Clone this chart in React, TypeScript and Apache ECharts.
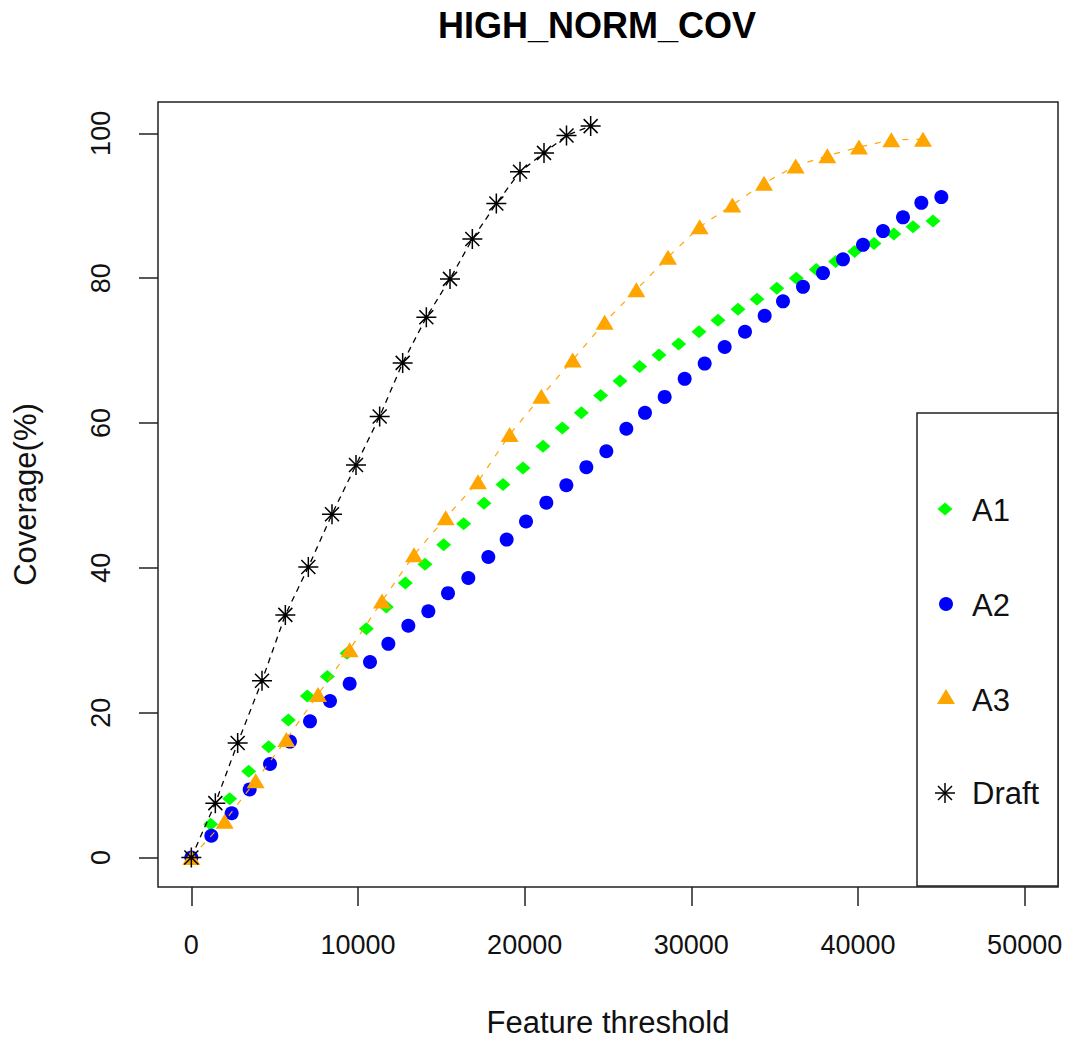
import React, { useEffect, useRef } from "react";
import * as echarts from "echarts";

// ---- data ----
const a1X = [0, 1160, 2300, 3440, 4640, 5820, 6960, 8160, 9340, 10500, 11700, 12840, 14020, 15140, 16340, 17560, 18700, 19900, 21100, 22260, 23400, 24560, 25720, 26900, 28060, 29240, 30460, 31600, 32800, 33940, 35130, 36300, 37500, 38660, 39800, 40960, 42150, 43300, 44500];
const a1Y = [0, 4.6, 8.1, 11.9, 15.3, 19.0, 22.3, 25.0, 28.2, 31.6, 34.6, 37.9, 40.5, 43.2, 46.1, 48.9, 51.5, 53.8, 56.8, 59.3, 61.4, 63.8, 65.8, 67.8, 69.4, 70.9, 72.6, 74.2, 75.7, 77.1, 78.6, 80.0, 81.2, 82.3, 83.7, 84.8, 86.1, 87.1, 87.9];

const a2X = [0, 1200, 2420, 3500, 4720, 5920, 7120, 8320, 9500, 10720, 11820, 13020, 14220, 15400, 16620, 17820, 18920, 20080, 21300, 22500, 23700, 24900, 26100, 27220, 28400, 29600, 30800, 32000, 33220, 34400, 35500, 36700, 37900, 39100, 40300, 41500, 42700, 43800, 45000];
const a2Y = [0, 3.0, 6.1, 9.4, 12.9, 16.0, 18.8, 21.6, 24.0, 27.0, 29.5, 32.0, 34.0, 36.5, 38.6, 41.5, 43.9, 46.4, 49.0, 51.4, 53.9, 56.1, 59.2, 61.4, 63.6, 66.1, 68.2, 70.5, 72.6, 74.8, 76.8, 78.8, 80.7, 82.6, 84.6, 86.5, 88.4, 90.4, 91.2];

const a3X = [0, 2000, 3860, 5700, 7600, 9500, 11440, 13360, 15260, 17200, 19100, 21000, 22880, 24800, 26700, 28600, 30500, 32460, 34360, 36260, 38160, 40060, 42000, 43900];
const a3Y = [0, 5.0, 10.6, 16.3, 22.5, 28.7, 35.4, 41.8, 46.9, 51.9, 58.4, 63.7, 68.7, 73.9, 78.4, 82.9, 87.1, 90.1, 93.1, 95.5, 96.9, 98.1, 99.1, 99.2];

const draftX = [0, 1440, 2780, 4240, 5640, 7020, 8440, 9880, 11300, 12680, 14100, 15520, 16860, 18300, 19720, 21160, 22510, 23960];
const draftY = [0, 7.5, 15.8, 24.4, 33.5, 40.1, 47.4, 54.2, 60.9, 68.3, 74.6, 79.9, 85.4, 90.3, 94.7, 97.3, 99.7, 101.0];

const xTicks = [0, 10000, 20000, 30000, 40000, 50000];
const yTicks = [0, 20, 40, 60, 80, 100];
const legendNames = ["A1", "A2", "A3", "Draft"];

const FONT = "'Liberation Sans', Arial, Helvetica, sans-serif";
const ASTERISK = "path://M0,10L20,10M10,0L10,20M3,3L17,17M17,3L3,17";

const zip = (xs: number[], ys: number[]) => xs.map((x, i) => [x, ys[i]]);

export default function App() {
  const ref = useRef<HTMLDivElement>(null);
  useEffect(() => {
    const chart = echarts.init(ref.current!, null, { renderer: "svg" });

    const legendYs = [510, 605, 700, 793];
    const lx = 945;
    const legendGraphics: any[] = [
      {
        type: "rect",
        z: 100,
        shape: { x: 917, y: 413, width: 141, height: 473 },
        style: { fill: "#fff", stroke: "#222", lineWidth: 1.5 },
      },
      {
        type: "polygon",
        z: 101,
        shape: { points: [[lx - 7.5, legendYs[0] - 1], [lx, legendYs[0] - 7.5], [lx + 7.5, legendYs[0] - 1], [lx, legendYs[0] + 5.5]] },
        style: { fill: "#00ff00" },
      },
      {
        type: "circle",
        z: 101,
        shape: { cx: lx + 1, cy: legendYs[1] - 1, r: 7 },
        style: { fill: "#0000ff" },
      },
      {
        type: "polygon",
        z: 101,
        shape: { points: [[lx + 1, legendYs[2] - 11], [lx + 10, legendYs[2] + 4], [lx - 8, legendYs[2] + 4]] },
        style: { fill: "#ffa500" },
      },
      {
        type: "group",
        z: 101,
        children: [
          { type: "line", z: 101, shape: { x1: lx - 10, y1: legendYs[3], x2: lx + 10, y2: legendYs[3] }, style: { stroke: "#000", lineWidth: 1.5 } },
          { type: "line", z: 101, shape: { x1: lx, y1: legendYs[3] - 10, x2: lx, y2: legendYs[3] + 10 }, style: { stroke: "#000", lineWidth: 1.5 } },
          { type: "line", z: 101, shape: { x1: lx - 7, y1: legendYs[3] - 7, x2: lx + 7, y2: legendYs[3] + 7 }, style: { stroke: "#000", lineWidth: 1.5 } },
          { type: "line", z: 101, shape: { x1: lx + 7, y1: legendYs[3] - 7, x2: lx - 7, y2: legendYs[3] + 7 }, style: { stroke: "#000", lineWidth: 1.5 } },
        ],
      },
      ...legendNames.map((n, i) => ({
        type: "text",
        z: 101,
        x: 972,
        y: legendYs[i],
        style: { text: n, fontSize: 31, fontFamily: FONT, fill: "#111", verticalAlign: "middle", align: "left" },
      })),
    ];

    const option: any = {
      animation: false,
      backgroundColor: "#fff",
      title: {
        text: "HIGH_NORM_COV",
        left: 433,
        top: 2,
        textStyle: { fontFamily: FONT, fontSize: 36, fontWeight: "bold", color: "#000" },
      },
      grid: {
        left: 158,
        top: 102,
        width: 900,
        height: 786,
        show: true,
        borderColor: "#222",
        borderWidth: 1.5,
        backgroundColor: "transparent",
      },
      xAxis: {
        type: "value",
        min: -2000,
        max: 52000,
        axisLine: { show: false, onZero: false },
        axisTick: { show: true, length: 19, lineStyle: { color: "#222", width: 1.5 }, customValues: xTicks },
        axisLabel: {
          customValues: xTicks,
          margin: 44,
          fontSize: 27,
          fontFamily: FONT,
          color: "#111",
          formatter: (v: number) => String(v),
        },
        splitLine: { show: false },
        name: "Feature threshold",
        nameLocation: "middle",
        nameGap: 120,
        nameTextStyle: { fontSize: 31, fontFamily: FONT, color: "#111" },
      },
      yAxis: {
        type: "value",
        min: -4.08,
        max: 104.33,
        axisLine: { show: false, onZero: false },
        axisTick: { show: true, length: 19, lineStyle: { color: "#222", width: 1.5 }, customValues: yTicks },
        axisLabel: {
          customValues: yTicks,
          margin: 44,
          rotate: 90,
          fontSize: 27,
          fontFamily: FONT,
          color: "#111",
          formatter: (v: number) => String(v),
        },
        splitLine: { show: false },
        name: "Coverage(%)",
        nameLocation: "middle",
        nameGap: 117,
        nameTextStyle: { fontSize: 31, fontFamily: FONT, color: "#111" },
      },
      series: [
        {
          name: "A1",
          type: "scatter",
          data: zip(a1X, a1Y),
          symbol: "diamond",
          symbolSize: [15, 13],
          itemStyle: { color: "#00ff00", opacity: 1 },
          silent: true,
        },
        {
          name: "A2",
          type: "scatter",
          data: zip(a2X, a2Y),
          symbol: "circle",
          symbolSize: 14,
          itemStyle: { color: "#0000ff", opacity: 1 },
          silent: true,
        },
        {
          name: "A3",
          type: "line",
          data: zip(a3X, a3Y),
          symbol: "triangle",
          symbolSize: [18, 15],
          showAllSymbol: true,
          itemStyle: { color: "#ffa500", opacity: 1 },
          lineStyle: { color: "#ffa500", width: 1.2, type: [6, 8] },
          silent: true,
        },
        {
          name: "Draft",
          type: "line",
          data: zip(draftX, draftY),
          symbol: ASTERISK,
          symbolSize: 20,
          showAllSymbol: true,
          itemStyle: { color: "none", borderColor: "#000", borderWidth: 1.5, opacity: 1 },
          lineStyle: { color: "#000", width: 1.3, type: [6, 5] },
          silent: true,
        },
      ],
      graphic: legendGraphics,
    };

    chart.setOption(option);
    return () => chart.dispose();
  }, []);

  return (
    <div
      ref={ref}
      style={{ position: "fixed", left: 0, top: 0, width: 1073, height: 1043, background: "#fff" }}
    />
  );
}
